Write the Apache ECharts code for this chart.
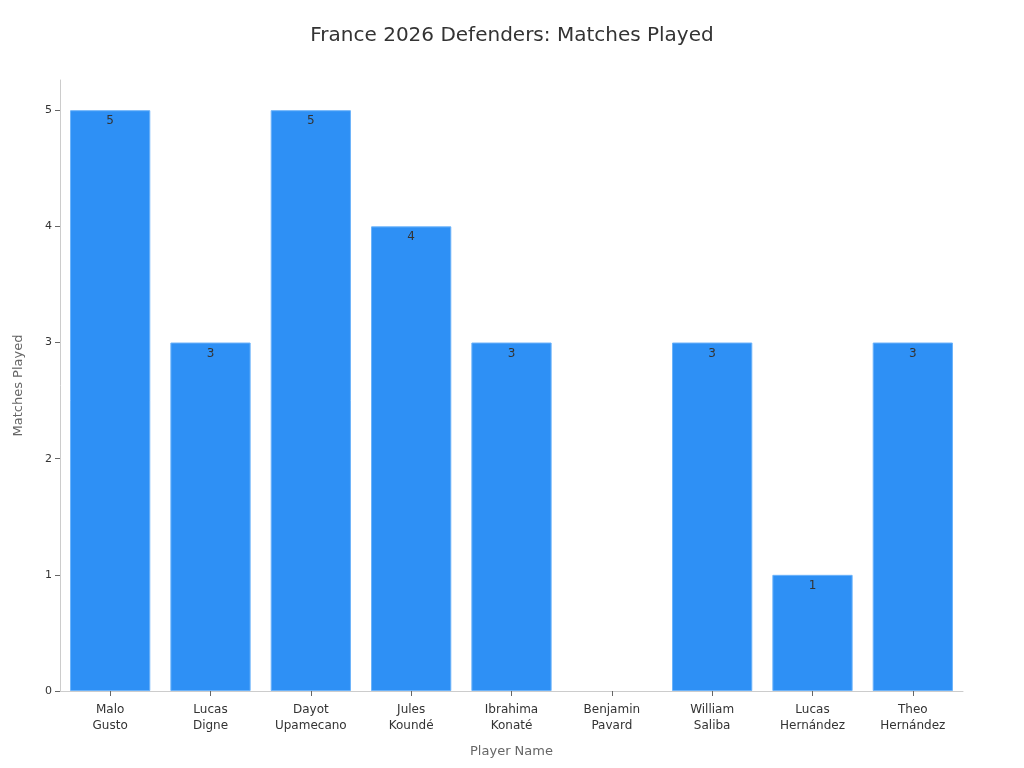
<!DOCTYPE html>
<html>
<head>
<meta charset="utf-8">
<script src="https://cdn.jsdelivr.net/npm/echarts@6/dist/echarts.min.js"></script>
<style>
  html, body { margin: 0; padding: 0; background: #fff; }
  #chart { width: 1024px; height: 768px; }
</style>
</head>
<body>
<div id="chart"></div>
<script>
var players = ['Malo\nGusto', 'Lucas\nDigne', 'Dayot\nUpamecano', 'Jules\nKoundé', 'Ibrahima\nKonaté',
  'Benjamin\nPavard', 'William\nSaliba', 'Lucas\nHernández', 'Theo\nHernández'];
var matches = [5, 3, 5, 4, 3, 0, 3, 1, 3];
var yTicks = [0, 1, 2, 3, 4, 5];

// zero bars get no border so nothing is drawn for them
var barData = matches.map(function (v) {
  return v === 0 ? { value: v, itemStyle: { borderWidth: 0 } } : v;
});

var myChart = echarts.init(document.getElementById('chart'));
myChart.setOption({
  textStyle: { fontFamily: 'DejaVu Sans' },
  title: {
    text: 'France 2026 Defenders: Matches Played',
    left: 'center',
    top: 21,
    textStyle: { fontSize: 20, fontWeight: 'normal', color: '#333' }
  },
  grid: { left: 60, right: 61, top: 80, bottom: 77 },
  xAxis: {
    type: 'category',
    data: players,
    name: 'Player Name',
    nameLocation: 'middle',
    nameGap: 54,
    nameTextStyle: { fontSize: 13, color: '#666' },
    axisLine: { lineStyle: { color: '#ccc' } },
    axisTick: { show: true, alignWithLabel: true, length: 5, lineStyle: { color: '#666' } },
    axisLabel: { fontSize: 12, color: '#333', lineHeight: 16, margin: 11 }
  },
  yAxis: {
    type: 'value',
    min: 0,
    max: 5.26,
    name: 'Matches Played',
    nameLocation: 'middle',
    nameGap: 35,
    nameTextStyle: { fontSize: 13, color: '#666' },
    splitLine: { show: false },
    axisLine: { show: true, lineStyle: { color: '#ccc' } },
    axisTick: { show: true, length: 5, customValues: yTicks, lineStyle: { color: '#666' } },
    axisLabel: { fontSize: 11, color: '#333', customValues: yTicks }
  },
  series: [{
    type: 'bar',
    data: barData,
    barWidth: '80%',
    itemStyle: { color: '#2e90f5', borderColor: '#6cb3fa', borderWidth: 1 },
    label: {
      show: true,
      position: 'insideTop',
      distance: 5,
      fontSize: 12,
      color: '#333',
      formatter: function (p) { return p.value ? p.value : ''; }
    }
  }]
});
</script>
</body>
</html>
